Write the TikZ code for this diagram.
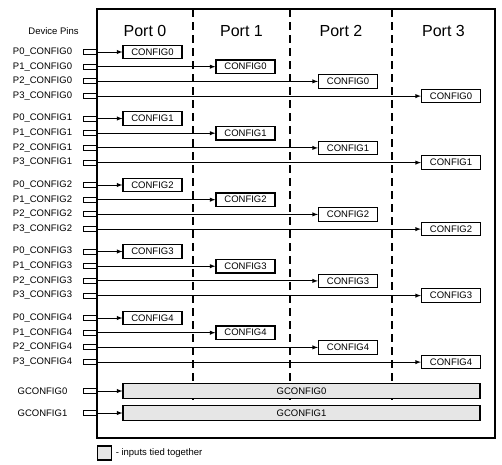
\documentclass[tikz,border=0pt]{standalone}
\usepackage{fontspec}
\setmainfont{Liberation Sans}
\usetikzlibrary{positioning}
\definecolor{tiedgray}{RGB}{230,230,230}

\begin{document}
\begin{tikzpicture}[
  x=1pt, y=-1pt,
  pin/.style={rectangle, draw, line width=1pt, minimum width=14pt, minimum height=5pt, inner sep=0pt},
  pinlabel/.style={inner sep=0pt, font=\fontsize{9.5}{11}\selectfont},
  config/.style={rectangle, draw, line width=1.1pt, fill=white, minimum width=59pt, minimum height=13.5pt, inner sep=0pt, font=\fontsize{9.5}{11}\selectfont},
  tied/.style={config, fill=tiedgray, minimum width=357pt, minimum height=15pt},
  port/.style={inner sep=0pt, font=\fontsize{16}{18}\selectfont},
  divider/.style={line width=1.2pt, dash pattern=on 8pt off 5pt},
  arrow/.style={->, >=latex, line width=0.9pt}
]
\useasboundingbox (0,0) rectangle (502,464);

% Frame and port columns
\draw[line width=1.4pt] (97,9) rectangle (495,438);
\foreach \x in {193,290,392}
  \draw[divider] (\x,9) -- (\x,400);

% Header
\node[pinlabel] (pins) at (53.5,31) {Device Pins};
\foreach \i/\x in {0/145,1/241.5,2/341,3/443.5}
  \node[port] (port\i) at (\x,31) {Port \i};

% Per-port config pins
\foreach \g in {0,...,4} {
  \foreach \p/\bx in {0/152.5,1/245.5,2/348,3/451} {
    \pgfmathsetmacro\y{52+66.5*\g+14.7*\p}
    \node[pinlabel] (lbl\p\g) at (42.5,\y) {P\p\_CONFIG\g};
    \node[pin] (pin\p\g) at (90,\y) {};
    \node[config] (cfg\p\g) at (\bx,\y) {CONFIG\g};
    \draw[arrow] (pin\p\g.east) -- (cfg\p\g.west);
  }
}

% Global config pins
\node[pinlabel] (glbl0) at (42.5,391) {GCONFIG0};
\node[pin] (gpin0) at (90,391) {};
\node[tied] (gcfg0) at (301.5,391) {GCONFIG0};
\draw[arrow] (gpin0.east) -- (gcfg0.west);

\node[pinlabel] (glbl1) at (42.5,413) {GCONFIG1};
\node[pin] (gpin1) at (90,413) {};
\node[tied] (gcfg1) at (301.5,413) {GCONFIG1};
\draw[arrow] (gpin1.east) -- (gcfg1.west);

% Legend
\node[rectangle, draw, line width=1.1pt, fill=tiedgray, minimum size=14pt, inner sep=0pt] (key) at (104.5,453) {};
\node[pinlabel, right=3.5pt of key] (keytext) {- inputs tied together};

\end{tikzpicture}
\end{document}
